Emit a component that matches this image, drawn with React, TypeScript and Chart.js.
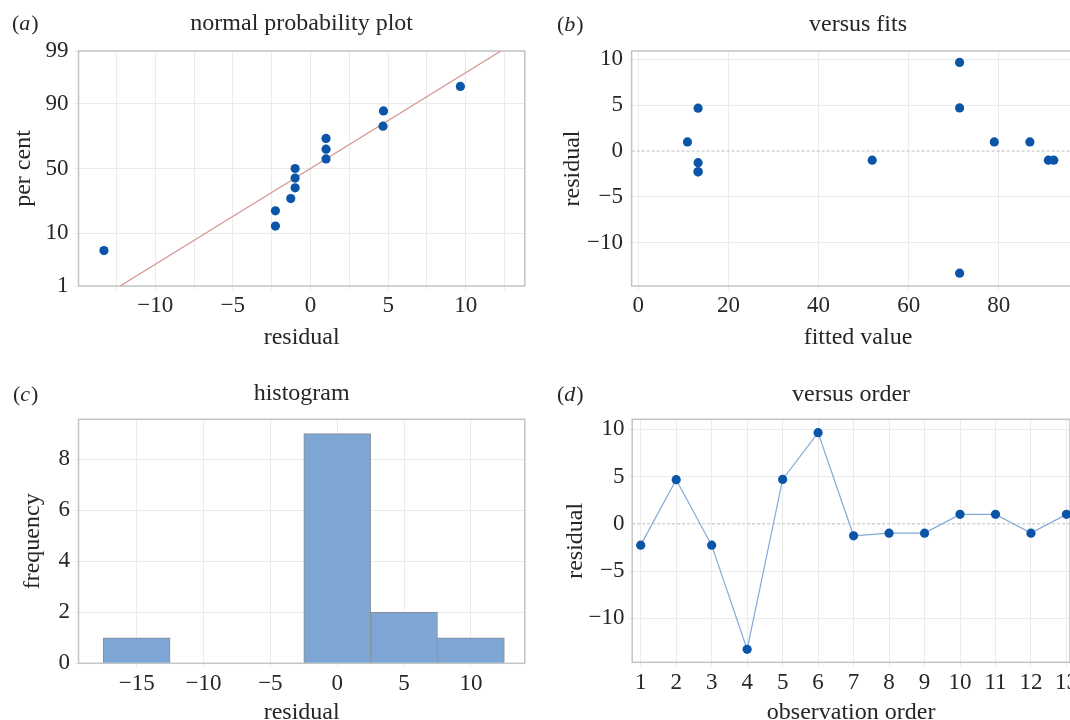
import React, { useEffect, useRef } from "react";
import { Chart, registerables, Scale } from "chart.js";

// ---------- data ----------
const observationOrder = [1, 2, 3, 4, 5, 6, 7, 8, 9, 10, 11, 12, 13];
const residuals = [-2.26, 4.67, -2.26, -13.3, 4.7, 9.65, -1.27, -0.99, -0.99, 1.0, 1.0, -0.99, 1.0];
const fittedValues = [13.26, 13.26, 13.26, 71.3, 71.3, 71.3, 13.26, 51.9, 91.0, 10.9, 79.0, 92.2, 86.9];

// normal probability plot
const sortedResiduals = [-13.3, -2.26, -2.26, -1.27, -0.99, -0.99, -0.99, 1.0, 1.0, 1.0, 4.67, 4.7, 9.65];
const probPercents = [5.2, 12.7, 20.1, 27.6, 35.1, 42.5, 50.0, 57.5, 64.9, 72.4, 79.9, 87.3, 94.8];
const fitLineResiduals = [-12.26, 12.26];
const fitLinePercents = [1, 99];
const percentTicks = [1, 10, 50, 90, 99];
const probXTicks = [-12.5, -10, -7.5, -5, -2.5, 0, 2.5, 5, 7.5, 10, 12.5];

// histogram
const binCenters = [-15, -10, -5, 0, 5, 10];
const binCounts = [1, 0, 0, 9, 2, 1];
const histXTicks = [-15, -10, -5, 0, 5, 10];
const histYTicks = [0, 2, 4, 6, 8];

// residual plots
const residualTicks = [-10, -5, 0, 5, 10];
const fitsXTicks = [0, 20, 40, 60, 80];
const orderTicks = [1, 2, 3, 4, 5, 6, 7, 8, 9, 10, 11, 12, 13];

// ---------- styling ----------
const FONT = "'Liberation Serif', 'Times New Roman', serif";
const TXT = "#262626";
const GRID = "#ebebeb";
const BORDER = "#c4c4c4";
const POINT = "#0b55a8";

// inverse standard normal CDF (Acklam)
function probit(p: number): number {
  const a = [-3.969683028665376e1, 2.209460984245205e2, -2.759285104469687e2, 1.38357751867269e2, -3.066479806614716e1, 2.506628277459239];
  const b = [-5.447609879822406e1, 1.615858368580409e2, -1.556989798598866e2, 6.680131188771972e1, -1.328068155288572e1];
  const c = [-7.784894002430293e-3, -3.223964580411365e-1, -2.400758277161838, -2.549732539343734, 4.374664141464968, 2.938163982698783];
  const d = [7.784695709041462e-3, 3.224671290700398e-1, 2.445134137142996, 3.754408661907416];
  const pl = 0.02425;
  if (p < pl) {
    const q = Math.sqrt(-2 * Math.log(p));
    return (((((c[0] * q + c[1]) * q + c[2]) * q + c[3]) * q + c[4]) * q + c[5]) / ((((d[0] * q + d[1]) * q + d[2]) * q + d[3]) * q + 1);
  }
  if (p <= 1 - pl) {
    const q = p - 0.5;
    const r = q * q;
    return ((((((a[0] * r + a[1]) * r + a[2]) * r + a[3]) * r + a[4]) * r + a[5]) * q) / (((((b[0] * r + b[1]) * r + b[2]) * r + b[3]) * r + b[4]) * r + 1);
  }
  const q = Math.sqrt(-2 * Math.log(1 - p));
  return -(((((c[0] * q + c[1]) * q + c[2]) * q + c[3]) * q + c[4]) * q + c[5]) / ((((d[0] * q + d[1]) * q + d[2]) * q + d[3]) * q + 1);
}

class ProbitScale extends Scale {
  static id = "probit";
  static defaults = {};
  determineDataLimits() {
    const s: any = this;
    s.min = s.options.min;
    s.max = s.options.max;
  }
  buildTicks() {
    return [];
  }
  getLabelForValue(v: number) {
    return String(v);
  }
  configure() {
    super.configure();
    const s: any = this;
    s._zmin = probit(s.min / 100);
    s._zmax = probit(s.max / 100);
  }
  getPixelForValue(v: number) {
    const s: any = this;
    return this.getPixelForDecimal((probit(v / 100) - s._zmin) / (s._zmax - s._zmin));
  }
  getValueForPixel(_p: number) {
    return 0;
  }
}

Chart.register(...registerables, ProbitScale as any);

function fmt(v: number): string {
  return v < 0 ? "\u2212" + Math.abs(v) : String(v);
}

type AxisOpts = {
  type?: string;
  min: number;
  max: number;
  ticks: number[];
  size: number;
  horizontal: boolean;
  title: string;
  titlePad: number;
  tickPad: number;
  label?: (v: number) => string;
  grid?: any;
};

function axis(o: AxisOpts): any {
  return {
    type: o.type ?? "linear",
    min: o.min,
    max: o.max,
    bounds: "data",
    offset: false,
    afterBuildTicks: (s: any) => {
      s.ticks = o.ticks.map((v) => ({ value: v }));
    },
    afterFit: (s: any) => {
      if (o.horizontal) s.height = o.size;
      else s.width = o.size;
      s.paddingLeft = 0;
      s.paddingRight = 0;
      s.paddingTop = 0;
      s.paddingBottom = 0;
    },
    ticks: {
      autoSkip: false,
      maxRotation: 0,
      minRotation: 0,
      padding: o.tickPad,
      color: TXT,
      font: { family: FONT, size: 23, lineHeight: 1.2 },
      callback: (v: number) => (o.label ? o.label(v) : fmt(v)),
    },
    grid: {
      color: o.grid ?? GRID,
      lineWidth: 1,
      tickLength: 4,
      drawTicks: true,
      offset: false,
    },
    border: { display: false },
    title: {
      display: true,
      text: o.title,
      color: TXT,
      font: { family: FONT, size: 24, lineHeight: 1.2 },
      padding: o.horizontal ? { top: 0, bottom: o.titlePad } : { top: o.titlePad, bottom: 0 },
    },
  };
}

const zeroGrid = (ctx: any) => (ctx.tick && ctx.tick.value === 0 ? "rgba(0,0,0,0)" : GRID);

const panelPlugin = {
  id: "panel",
  beforeDatasetsDraw(chart: any, _args: any, opts: any) {
    const { ctx, chartArea: a } = chart;
    ctx.save();
    if (opts.zeroLine) {
      const y = chart.scales.y.getPixelForValue(0);
      ctx.strokeStyle = "#bcbcbc";
      ctx.lineWidth = 1;
      ctx.setLineDash([3, 2]);
      ctx.beginPath();
      ctx.moveTo(a.left, y);
      ctx.lineTo(a.right, y);
      ctx.stroke();
      ctx.setLineDash([]);
    }
    ctx.strokeStyle = BORDER;
    ctx.lineWidth = 1.5;
    ctx.strokeRect(a.left, a.top, a.right - a.left, a.bottom - a.top);
    ctx.restore();
  },
  afterDraw(chart: any, _args: any, opts: any) {
    const { ctx, chartArea: a } = chart;
    ctx.save();
    ctx.fillStyle = TXT;
    ctx.textBaseline = "alphabetic";
    ctx.textAlign = "center";
    ctx.font = `24px ${FONT}`;
    ctx.fillText(opts.title, (a.left + a.right) / 2, opts.titleY);
    ctx.textAlign = "left";
    let x = opts.labelX;
    ctx.font = `22px ${FONT}`;
    ctx.fillText("(", x, opts.labelY);
    x += ctx.measureText("(").width;
    ctx.font = `italic 22px ${FONT}`;
    ctx.fillText(opts.letter, x, opts.labelY);
    x += ctx.measureText(opts.letter).width + 1;
    ctx.font = `22px ${FONT}`;
    ctx.fillText(")", x, opts.labelY);
    ctx.restore();
  },
};

const common = {
  responsive: false,
  animation: false as const,
  devicePixelRatio: 1,
};

const PR = 4.6;

function configA(): any {
  return {
    type: "scatter",
    data: {
      datasets: [
        {
          data: sortedResiduals.map((x, i) => ({ x, y: probPercents[i] })),
          backgroundColor: POINT,
          pointRadius: PR,
          pointBorderWidth: 0,
          order: 0,
        },
        {
          type: "line",
          data: fitLineResiduals.map((x, i) => ({ x, y: fitLinePercents[i] })),
          borderColor: "#d4928d",
          borderWidth: 1.2,
          pointRadius: 0,
          fill: false,
          order: 1,
        },
      ],
    },
    options: {
      ...common,
      layout: { padding: { left: 0, top: 51, right: 10.2, bottom: 0 } },
      plugins: {
        legend: { display: false },
        tooltip: { enabled: false },
        panel: { title: "normal probability plot", titleY: 29.5, letter: "a", labelX: 12, labelY: 30 },
      },
      scales: {
        x: axis({ min: -14.94, max: 13.8, ticks: probXTicks, size: 74, horizontal: true, title: "residual", titlePad: 7.9, tickPad: 1.8, label: (v) => (v % 5 === 0 ? fmt(v) : "") }),
        y: axis({ type: "probit", min: 1, max: 99, ticks: percentTicks, size: 78.5, horizontal: false, title: "per cent", titlePad: 9, tickPad: 6, label: (v) => String(v) }),
      },
    },
    plugins: [panelPlugin],
  };
}

function configB(): any {
  return {
    type: "scatter",
    data: {
      datasets: [
        {
          data: fittedValues.map((x, i) => ({ x, y: residuals[i] })),
          backgroundColor: POINT,
          pointRadius: PR,
          pointBorderWidth: 0,
        },
      ],
    },
    options: {
      ...common,
      layout: { padding: { left: 0, top: 51, right: 10.6, bottom: 0 } },
      plugins: {
        legend: { display: false },
        tooltip: { enabled: false },
        panel: { title: "versus fits", titleY: 31, letter: "b", labelX: 22, labelY: 31, zeroLine: true },
      },
      scales: {
        x: axis({ min: -1.5, max: 99, ticks: fitsXTicks, size: 74, horizontal: true, title: "fitted value", titlePad: 8, tickPad: 1.8 }),
        y: axis({ min: -14.7, max: 10.9, ticks: residualTicks, size: 96.6, horizontal: false, title: "residual", titlePad: 23.8, tickPad: 4.6, grid: zeroGrid }),
      },
    },
    plugins: [panelPlugin],
  };
}

function configC(): any {
  return {
    type: "bar",
    data: {
      datasets: [
        {
          data: binCenters.map((x, i) => ({ x, y: binCounts[i] })),
          backgroundColor: "#7ea6d4",
          borderColor: "#878e99",
          borderWidth: 1,
          barPercentage: 1,
          categoryPercentage: 1,
        },
      ],
    },
    options: {
      ...common,
      layout: { padding: { left: 0, top: 59.3, right: 10.2, bottom: 0 } },
      plugins: {
        legend: { display: false },
        tooltip: { enabled: false },
        panel: { title: "histogram", titleY: 39.5, letter: "c", labelX: 13, labelY: 40.5 },
      },
      scales: {
        x: axis({ min: -19.35, max: 14.03, ticks: histXTicks, size: 66.7, horizontal: true, title: "residual", titlePad: 2.6, tickPad: 2.8 }),
        y: axis({ min: 0, max: 9.56, ticks: histYTicks, size: 78.5, horizontal: false, title: "frequency", titlePad: 18, tickPad: 4.5 }),
      },
    },
    plugins: [panelPlugin],
  };
}

function configD(): any {
  return {
    type: "scatter",
    data: {
      datasets: [
        {
          data: observationOrder.map((x, i) => ({ x, y: residuals[i] })),
          showLine: true,
          borderColor: "#82aad9",
          borderWidth: 1.2,
          backgroundColor: POINT,
          pointBackgroundColor: POINT,
          pointRadius: PR,
          pointBorderWidth: 0,
        },
      ],
    },
    options: {
      ...common,
      layout: { padding: { left: 0, top: 59.3, right: 25, bottom: 0 } },
      plugins: {
        legend: { display: false },
        tooltip: { enabled: false },
        panel: { title: "versus order", titleY: 40.5, letter: "d", labelX: 22, labelY: 41, zeroLine: true },
      },
      scales: {
        x: axis({ min: 0.76, max: 13.1, ticks: orderTicks, size: 67.7, horizontal: true, title: "observation order", titlePad: 2.6, tickPad: 2.8 }),
        y: axis({ min: -14.67, max: 11.07, ticks: residualTicks, size: 97.2, horizontal: false, title: "residual", titlePad: 26.6, tickPad: 3.8, grid: zeroGrid }),
      },
    },
    plugins: [panelPlugin],
  };
}

export default function App() {
  const aRef = useRef<HTMLCanvasElement>(null);
  const bRef = useRef<HTMLCanvasElement>(null);
  const cRef = useRef<HTMLCanvasElement>(null);
  const dRef = useRef<HTMLCanvasElement>(null);

  useEffect(() => {
    const charts = [
      new Chart(aRef.current!, configA()),
      new Chart(bRef.current!, configB()),
      new Chart(cRef.current!, configC()),
      new Chart(dRef.current!, configD()),
    ];
    return () => charts.forEach((c) => c.destroy());
  }, []);

  const abs = (left: number, top: number): React.CSSProperties => ({ position: "absolute", left, top, display: "block" });

  return (
    <div style={{ position: "fixed", left: 0, top: 0, width: 1070, height: 720, overflow: "hidden", background: "#ffffff" }}>
      <canvas ref={aRef} width={535} height={360} style={abs(0, 0)} />
      <canvas ref={bRef} width={560} height={360} style={abs(535, 0)} />
      <canvas ref={cRef} width={535} height={370} style={abs(0, 360)} />
      <canvas ref={dRef} width={560} height={370} style={abs(535, 360)} />
    </div>
  );
}
